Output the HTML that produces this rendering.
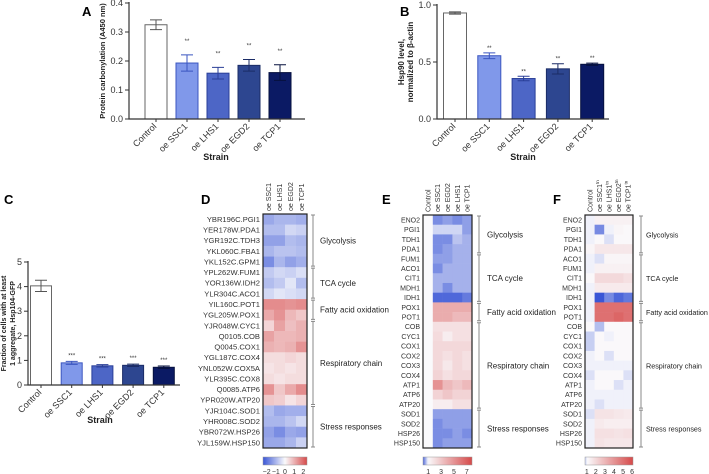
<!DOCTYPE html>
<html><head><meta charset="utf-8"><style>
body{margin:0;background:#fff}
svg{display:block;font-family:"Liberation Sans",Arial,sans-serif}
</style></head><body>
<svg id="fig" width="709" height="474" viewBox="0 0 709 474" xmlns="http://www.w3.org/2000/svg">
<rect width="709" height="474" fill="#fff"/>
<text x="82" y="16" font-size="13" font-weight="bold">A</text>
<text x="400" y="16" font-size="13" font-weight="bold">B</text>
<text x="4" y="204" font-size="13" font-weight="bold">C</text>
<text x="201" y="204" font-size="13" font-weight="bold">D</text>
<text x="382" y="204" font-size="13" font-weight="bold">E</text>
<text x="553" y="204" font-size="13" font-weight="bold">F</text>
</svg>
<script>
// ---- bar data ----
const strains = ["Control","oe SSC1","oe LHS1","oe EGD2","oe TCP1"];
const aValues = [0.325,0.193,0.158,0.185,0.160];
const aErrors = [0.017,0.028,0.020,0.020,0.027];
const aTicks = ["0.0","0.1","0.2","0.3","0.4"];
const bValues = [0.93,0.555,0.355,0.44,0.48];
const bErrors = [0.01,0.025,0.02,0.045,0.01];
const bTicks = ["0.0","0.5","1.0"];
const cValues = [4.03,0.9,0.78,0.8,0.72];
const cErrors = [0.23,0.06,0.05,0.05,0.05];
const cTicks = ["0","1","2","3","4","5"];
const sigA = ["","**","**","**","**"];
const sigC = ["","***","***","***","***"];
// ---- heatmap D ----
const dCols = ["oe SSC1","oe LHS1","oe EGD2","oe TCP1"];
const dRows = ["YBR196C.PGI1","YER178W.PDA1","YGR192C.TDH3","YKL060C.FBA1","YKL152C.GPM1","YPL262W.FUM1","YOR136W.IDH2","YLR304C.ACO1","YIL160C.POT1","YGL205W.POX1","YJR048W.CYC1","Q0105.COB","Q0045.COX1","YGL187C.COX4","YNL052W.COX5A","YLR395C.COX8","Q0085.ATP6","YPR020W.ATP20","YJR104C.SOD1","YHR008C.SOD2","YBR072W.HSP26","YJL159W.HSP150"];
const dValues = [[-1.2,-1,-1,-1.1],[-0.9,-0.9,-0.5,-0.6],[-1.3,-1.3,-0.9,-1.0],[-1.0,-0.8,-0.8,-0.9],[-1.6,-1.0,-1.3,-1.1],[-0.7,-0.5,-0.6,-0.4],[-0.9,-0.7,-0.3,-0.9],[-0.5,-0.3,-0.4,-0.5],[1.5,1.5,1.4,1.5],[1.1,1.4,0.9,0.7],[0.5,1.2,0.8,1.0],[1.2,0.9,0.9,1.0],[1.0,0.9,1.0,1.4],[0.4,0.4,0.5,0.4],[0.3,0.4,0.3,0.4],[0.4,0.3,0.4,0.4],[1.4,0.7,1.1,1.5],[0.7,0.6,0.3,0.5],[-0.9,-1.2,-1.1,-1.1],[-1.0,-1.0,-0.8,-0.5],[-1.3,-1.6,-1.2,-1.3],[-1.2,-1.2,-1.0,-0.6]];
const dGroups = ["Glycolysis","TCA cycle","Fatty acid oxidation","Respiratory chain","Stress responses"];
const dGroupSizes = [5,3,2,8,4];
const dBarTicks = ["\u22122","\u22121","0","1","2"];
// ---- heatmap E ----
const eCols = ["Control","oe SSC1","oe EGD2","oe LHS1","oe TCP1"];
const eRows = ["ENO2","PGI1","TDH1","PDA1","FUM1","ACO1","CIT1","MDH1","IDH1","POX1","POT1","COB","CYC1","COX1","COX2","COX3","COX4","ATP1","ATP6","ATP20","SOD1","SOD2","HSP26","HSP150"];
const eValues = [[1,.4,.5,.4,.5],[1,.8,.8,.8,.5],[1,.4,.4,.7,.6],[1,.4,.5,.6,.6],[1,.5,.5,.6,.6],[1,.4,.6,.6,.6],[1,.6,.6,.6,.6],[1,.6,.4,.6,.6],[1,.2,.2,.2,.3],[1,4,4,4,4],[1,4,4,3.5,3.5],[1,2,2,2,2],[1,2.2,1.5,2,2],[1,2.3,2.3,2.3,2.3],[1,2.3,2,2.3,2],[1,2.3,1.7,2.3,2],[1,2.5,2,2.3,2.3],[1,5,3.5,3,3.5],[1,2.5,3,2.5,2.5],[1,1.5,1.5,2,2],[1,.5,.5,.5,.5],[1,.4,.5,.5,.5],[1,.4,.4,.5,.4],[1,.4,.5,.5,.5]];
const eGroupSizes = [4,5,2,9,4];
const eBarTicks = ["1","3","5","7"];
// ---- heatmap F ----
const fCols = ["Control","oe SSC1","oe LHS1","oe EGD2","oe TCP1"];
const fRows = ["ENO2","PGI1","TDH1","PDA1","ACO1","FUM1","CIT1","MDH1","IDH1","POX1","POT1","COB","CYC1","COX1","COX2","COX3","COX4","ATP1","ATP6","ATP20","SOD1","SOD2","HSP26","HSP150"];
const fValues = [[1,1.3,1.3,1.3,1.3],[1,.4,1,1.2,1.1],[1,1.1,.9,1.1,1.1],[1.2,1.6,1.6,1.6,1.6],[1,.9,1.2,1.2,1.2],[1,1.3,1.3,1.3,1.3],[1.1,2,2,2,1.8],[1,1.5,1.5,1.5,1.5],[1,.1,.4,.2,.3],[1,5,5,5,5],[1,5,5,5.3,5],[1.1,.7,1.1,1.1,1.1],[.8,1.1,1,1.1,1.1],[.8,1.1,1.1,1.1,1.1],[1,1.1,.9,1.1,1.1],[1,1,1,1,1],[.9,1.1,1.1,1.1,.9],[1,1.1,1.1,.9,1],[1,1,1,1,1],[1,.9,1,1,1],[.9,1.7,1.7,1.6,1.5],[1,1.5,1.4,1.4,1.4],[1,1.8,1.8,1.7,1.8],[1,1.7,1.6,1.6,1.6]];
const fGroupSizes = [4,5,2,9,4];
const fBarTicks = ["1","2","3","4","5","6"];

const NS="http://www.w3.org/2000/svg";
const svg=document.getElementById('fig');
function mk(tag,attrs,parent){const e=document.createElementNS(NS,tag);for(const k in attrs)e.setAttribute(k,attrs[k]);(parent||svg).appendChild(e);return e;}
const fills=["#ffffff","#8098ea","#4d66c6","#2d4690","#0b1a64"];
const strokes=["#666","#3b56c0","#2a3f98","#1b2c66","#06103e"];

function barPanel(o){
  const g=mk('g',{});
  
  
  const y=v=>o.y0-(v-o.vmin)/(o.vmax-o.vmin)*(o.y0-o.y1);
  o.ticks.forEach(t=>{
    const v=parseFloat(t);
    const tl=mk('line',{x1:o.ax-4,x2:o.ax,y1:y(v),y2:y(v),stroke:'#333','stroke-width':1},g);
    
    
    const tt=mk('text',{x:o.ax-6,y:y(v)+3,'font-size':9,'text-anchor':'end',fill:'#333'},g);
    tt.textContent=t;
    
    
  });
  o.values.forEach((v,i)=>{
    const cx=o.x0+i*o.step, w=o.bw;
    const r=mk('rect',{x:cx-w/2,y:y(v),width:w,height:o.y0-y(v),fill:fills[i],stroke:strokes[i],'stroke-width':1},g);
    
    
    const e=o.errors[i];
    const ep=mk('path',{d:`M${cx},${y(v+e)}V${y(v-e)}M${cx-6},${y(v+e)}H${cx+6}M${cx-6},${y(v-e)}H${cx+6}`,stroke:i==0?'#555':strokes[i],'stroke-width':1,fill:'none'},g);
    
    
    if(o.sig[i]){
      const s=mk('text',{x:cx,y:y(v+e)-o.sigOff,'font-size':6,'text-anchor':'middle',fill:'#333'},g);
      s.textContent=o.sig[i];
      
      
    }
    const xt=mk('line',{x1:cx,x2:cx,y1:o.y0,y2:o.y0+3,stroke:'#333'},g);
    
    
    const lt=mk('text',{x:cx+1,y:o.y0+8,'font-size':9,'text-anchor':'end',fill:'#333',transform:`rotate(-45 ${cx+1} ${o.y0+8})`},g);
    lt.textContent=strains[i];
    
    
  });
  const ax=mk('path',{d:`M${o.ax},${o.y1-1}V${o.y0}H${o.xend}`,stroke:'#333','stroke-width':1.2,fill:'none'},g);
  
  
  const xl=mk('text',{x:o.strainX,y:o.strainY,'font-size':9,'font-weight':'bold','text-anchor':'middle',fill:'#222'},g);
  xl.textContent='Strain';
  
  
  o.ylab.forEach((l,k)=>{
    const yx=o.ylabX+k*9, yy=(o.y0+o.y1)/2;
    const t=mk('text',{x:yx,y:yy,'font-size':o.ylfs,'font-weight':'bold','text-anchor':'middle',fill:'#222',transform:`rotate(-90 ${yx} ${yy})`},g);
    t.textContent=l;
    
    
  });
}
barPanel({name:'panel-a-chart',values:aValues,errors:aErrors,ticks:aTicks,sig:sigA,vmin:0,vmax:0.4,y0:119,y1:3,ax:129,xend:305,x0:156,step:31,bw:22,sigOff:12,strainX:216,strainY:160,ylab:['Protein carbonylation (A450 nm)'],ylabX:105,ylfs:7.5});
barPanel({name:'panel-b-chart',values:bValues,errors:bErrors,ticks:bTicks,sig:sigA,vmin:0,vmax:1,y0:119,y1:5,ax:437,xend:609,x0:455,step:34.3,bw:23,sigOff:3,strainX:523,strainY:160,ylab:['Hsp90 level,','normalized to \u03b2-actin'],ylabX:404,ylfs:8});
barPanel({name:'panel-c-chart',values:cValues,errors:cErrors,ticks:cTicks,sig:sigC,vmin:0,vmax:5,y0:385,y1:262,ax:28,xend:180,x0:41,step:30.7,bw:21,sigOff:4,strainX:100,strainY:423,ylab:['Fraction of cells with at least','1 aggregate, Hsp104-GFP'],ylabX:6,ylfs:7});

function lerp(a,b,t){return a.map((x,i)=>Math.round(x+(b[i]-x)*t));}
const BLUE=[58,86,214],WHITE=[250,250,252],RED=[214,74,74];
function cmap(v,lo,mid,hi){
  let c;
  if(v<=mid){c=lerp(BLUE,WHITE,Math.max(0,(v-lo)/(mid-lo)));}
  else{c=lerp(WHITE,RED,Math.min(1,(v-mid)/(hi-mid)));}
  return `rgb(${c[0]},${c[1]},${c[2]})`;
}
function heat(o){
  const g=mk('g',{});
  
  
  const nr=o.rows.length,nc=o.cols.length;
  const cw=(o.x1-o.x0)/nc, rh=(o.y1-o.y0)/nr;
  o.values.forEach((row,r)=>row.forEach((v,c)=>{
    const cell=mk('rect',{x:o.x0+c*cw,y:o.y0+r*rh,width:cw+0.3,height:rh+0.3,fill:cmap(v,o.lo,o.mid,o.hi)},g);
    
    
  }));
  const fr=mk('rect',{x:o.x0,y:o.y0,width:o.x1-o.x0,height:o.y1-o.y0,fill:'none',stroke:'#222','stroke-width':1.2},g);
  
  
  o.rows.forEach((l,r)=>{
    const t=mk('text',{x:o.x0-3,y:o.y0+(r+0.5)*rh+2.6,'font-size':o.rfs,'text-anchor':'end',fill:'#333'},g);
    t.textContent=l;
    
    
  });
  o.cols.forEach((l,c)=>{
    const cx=o.x0+(c+0.5)*cw+2.5, cy=o.y0-3;
    const t=mk('text',{x:cx,y:cy,'font-size':7,fill:'#333',transform:`rotate(-90 ${cx} ${cy})`},g);
    t.textContent=l;
    if(o.sup&&c>0){const sp=mk('tspan',{'font-size':4.5,dy:-3},t);sp.textContent='tn';}
    
    
  });
  let start=0;
  o.groupSizes.forEach((n,k)=>{
    const ya=o.y0+start*rh, yb=o.y0+(start+n)*rh;
    const b=mk('path',{d:`M${o.bx},${ya+1}V${yb-1}M${o.bx-2},${ya+1}H${o.bx+2}M${o.bx-2},${yb-1}H${o.bx+2}`,stroke:'#888','stroke-width':1,fill:'none'},g);
    
    
    const t=mk('text',{x:o.bx+o.gOff,y:(ya+yb)/2+3,'font-size':o.gfs,fill:'#222'},g);
    t.textContent=dGroups[k];
    
    
    start+=n;
  });
  const gid=o.name+'-grad';
  const defs=mk('defs',{},g);
  const lg=mk('linearGradient',{id:gid,x1:0,x2:1,y1:0,y2:0},defs);
  for(let i=0;i<=20;i++){const v=o.bLo+(o.bHi-o.bLo)*i/20;mk('stop',{offset:i/20,'stop-color':cmap(v,o.lo,o.mid,o.hi)},lg);}
  const cb=mk('rect',{x:o.x0,y:457,width:o.x1-o.x0,height:8,fill:`url(#${gid})`,stroke:'#999','stroke-width':0.5},g);
  
  
  o.barTicks.forEach(t=>{
    const v=parseFloat(t.replace('\u2212','-'));
    const x=o.x0+(v-o.bLo)/(o.bHi-o.bLo)*(o.x1-o.x0);
    const tt=mk('text',{x:x,y:474,'font-size':7,'text-anchor':'middle',fill:'#333'},g);
    tt.textContent=t;
    
    
  });
}
heat({name:'panel-d-heatmap',rows:dRows,cols:dCols,values:dValues,groupSizes:dGroupSizes,barTicks:dBarTicks,x0:263,x1:307,y0:214,y1:448,lo:-2.4,mid:0,hi:2.4,bLo:-2.4,bHi:2.4,bx:313,rfs:7.6,gfs:8,gOff:7});
heat({name:'panel-e-heatmap',rows:eRows,cols:eCols,values:eValues,groupSizes:eGroupSizes,barTicks:eBarTicks,x0:423,x1:472,y0:215,y1:448,lo:0.1,mid:1.0,hi:7.8,bLo:0.2,bHi:7.8,bx:479,rfs:7,gfs:8,gOff:8});
heat({name:'panel-f-heatmap',rows:fRows,cols:fCols,values:fValues,groupSizes:fGroupSizes,barTicks:fBarTicks,x0:585,x1:633,y0:215,y1:448,lo:0.1,mid:1.05,hi:6.1,bLo:0.8,bHi:6.1,bx:641,rfs:7,sup:true,gfs:7.2,gOff:5});
</script>
</body></html>
